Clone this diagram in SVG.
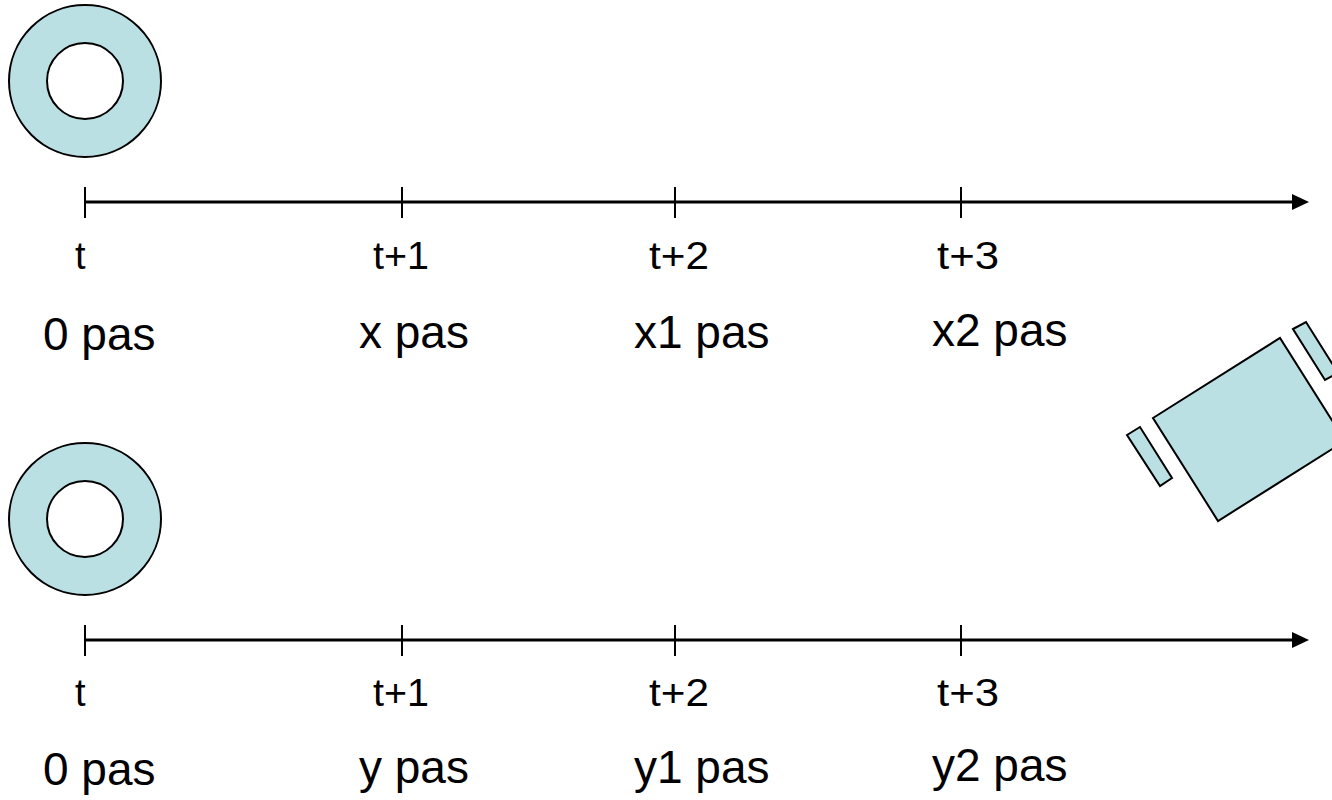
<svg xmlns="http://www.w3.org/2000/svg" width="1332" height="800" viewBox="0 0 1332 800">
  <style>
    .shape { fill: #BBE0E3; stroke: #000; stroke-width: 2; }
    .hole { fill: #fff; stroke: #000; stroke-width: 2; }
    .axis { stroke: #000; stroke-width: 3; fill: none; }
    .head { fill: #000; stroke: none; }
    .tick { stroke: #000; stroke-width: 2; }
    .lbl { font-family: "Liberation Sans", Arial, sans-serif; font-size: 38px; fill: #000; }
    .val { font-family: "Liberation Sans", Arial, sans-serif; font-size: 46px; fill: #000; }
  </style>
  <rect width="1332" height="800" fill="#fff"/>

  <!-- rings (start markers) -->
  <g id="ring-top">
    <circle class="shape" cx="85" cy="81" r="76"/>
    <circle class="hole" cx="85" cy="81" r="38"/>
  </g>
  <g id="ring-bottom">
    <circle class="shape" cx="85" cy="519" r="76"/>
    <circle class="hole" cx="85" cy="519" r="38"/>
  </g>

  <!-- robot seen from above -->
  <g id="robot">
    <polygon class="shape" points="1153,418 1280,338 1345,441 1218,521"/>
    <polygon class="shape" points="1127,435 1140,427 1172,478 1160,486"/>
    <polygon class="shape" points="1293,329 1306,322 1338,373 1325,380"/>
  </g>

  <!-- time axes -->
  <g id="connectors">
    <line class="axis" x1="85" y1="202" x2="1296" y2="202"/>
    <polygon class="head" points="1309,202 1292,194 1292,210"/>
    <line class="tick" x1="85" y1="187" x2="85" y2="218"/>
    <line class="tick" x1="402" y1="187" x2="402" y2="218"/>
    <line class="tick" x1="675" y1="187" x2="675" y2="218"/>
    <line class="tick" x1="961" y1="187" x2="961" y2="218"/>

    <line class="axis" x1="85" y1="640" x2="1296" y2="640"/>
    <polygon class="head" points="1309,640 1292,632 1292,648"/>
    <line class="tick" x1="85" y1="625" x2="85" y2="656"/>
    <line class="tick" x1="402" y1="625" x2="402" y2="656"/>
    <line class="tick" x1="675" y1="625" x2="675" y2="656"/>
    <line class="tick" x1="961" y1="625" x2="961" y2="656"/>
  </g>

  <!-- labels, first axis -->
  <g id="labels-top">
    <text class="lbl" x="75" y="269">t</text>
    <text class="lbl" x="373" y="269" textLength="56" lengthAdjust="spacingAndGlyphs">t+1</text>
    <text class="lbl" x="649" y="269" textLength="60" lengthAdjust="spacingAndGlyphs">t+2</text>
    <text class="lbl" x="937" y="269" textLength="62" lengthAdjust="spacingAndGlyphs">t+3</text>
    <text class="val" x="43" y="350">0 pas</text>
    <text class="val" x="359" y="348">x pas</text>
    <text class="val" x="634" y="348">x1 pas</text>
    <text class="val" x="932" y="346">x2 pas</text>
  </g>

  <!-- labels, second axis -->
  <g id="labels-bottom">
    <text class="lbl" x="75" y="706">t</text>
    <text class="lbl" x="373" y="706" textLength="56" lengthAdjust="spacingAndGlyphs">t+1</text>
    <text class="lbl" x="649" y="706" textLength="60" lengthAdjust="spacingAndGlyphs">t+2</text>
    <text class="lbl" x="937" y="706" textLength="62" lengthAdjust="spacingAndGlyphs">t+3</text>
    <text class="val" x="43" y="785">0 pas</text>
    <text class="val" x="359" y="783">y pas</text>
    <text class="val" x="634" y="783">y1 pas</text>
    <text class="val" x="932" y="781">y2 pas</text>
  </g>
</svg>
